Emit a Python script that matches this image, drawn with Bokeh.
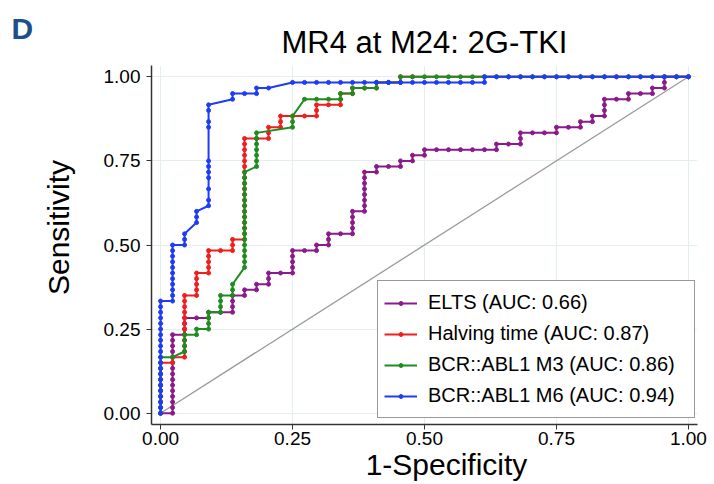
from bokeh.plotting import figure
from bokeh.models import Range1d, FixedTicker, Label, Legend, LegendItem, NumeralTickFormatter
from bokeh.embed import file_html
from bokeh.resources import INLINE
import numpy as np

# ROC points: (false positives, true positives)
N_NEG = 44
N_POS = 60

ELTS_PTS = [(0,0),(1,0),(1,1),(1,2),(1,3),(1,4),(1,5),(1,6),(1,7),(1,8),(1,9),(1,10),(1,11),(1,12),(1,13),(1,14),
            (2,14),(2,15),(2,16),(2,17),(3,17),(4,17),(4,18),(5,18),(6,18),(6,19),(6,20),(6,21),(7,21),(7,22),
            (8,22),(8,23),(9,23),(9,24),(9,25),(10,25),(11,25),(11,26),(11,27),(11,28),(11,29),(12,29),(13,29),
            (13,30),(14,30),(14,31),(14,32),(15,32),(16,32),(16,33),(16,34),(16,35),(16,36),(17,36),(17,37),
            (17,38),(17,39),(17,40),(17,41),(17,42),(17,43),(18,43),(18,44),(19,44),(20,44),(20,45),(21,45),
            (21,46),(22,46),(22,47),(23,47),(24,47),(25,47),(26,47),(27,47),(28,47),(28,48),(29,48),(30,48),
            (30,49),(30,50),(31,50),(32,50),(33,50),(33,51),(34,51),(35,51),(35,52),(36,52),(36,53),(37,53),
            (37,54),(37,55),(37,56),(38,56),(39,56),(39,57),(40,57),(41,57),(41,58),(42,58),(42,59),(42,60),
            (43,60),(44,60)]

HALVING_PTS = [(0,0),(0,1),(0,2),(0,3),(0,4),(0,5),(0,6),(0,7),(0,8),(0,9),(1,9),(1,10),(2,10),(2,11),(2,12),
               (2,13),(2,14),(2,15),(2,16),(2,17),(2,18),(2,19),(2,20),(2,21),(3,21),(3,22),(3,23),(3,24),(3,25),
               (4,25),(4,26),(4,27),(4,28),(4,29),(5,29),(6,29),(6,30),(6,31),(7,31),(7,32),(7,33),(7,34),(7,35),
               (7,36),(7,37),(7,38),(7,39),(7,40),(7,41),(7,42),(7,43),(7,44),(7,45),(7,46),(7,47),(7,48),(7,49),
               (8,49),(9,49),(9,50),(9,51),(10,51),(10,52),(10,53),(11,53),(12,53),(13,53),(13,54),(13,55),(14,55),
               (15,55),(15,56),(15,57),(16,57),(16,58),(17,58),(18,58),(18,59),(19,59),(20,59),(20,60),(21,60),
               (38,60),(44,60)]

M3_PTS = [(0,0),(0,1),(0,2),(0,3),(0,4),(0,5),(0,6),(0,7),(0,8),(0,9),(0,10),(1,10),(2,11),(2,12),(2,13),(2,14),
          (3,14),(3,15),(4,15),(4,16),(4,17),(4,18),(5,18),(5,19),(5,20),(5,21),(6,21),(6,22),(6,23),(7,26),(7,27),
          (7,28),(7,29),(7,30),(7,31),(7,32),(7,33),(7,34),(7,35),(7,36),(7,37),(7,38),(7,39),(7,40),(7,41),(7,42),
          (7,43),(8,44),(8,45),(8,46),(8,47),(8,48),(8,49),(8,50),(11,51),(11,52),(11,53),(12,56),(13,56),(14,56),
          (15,56),(15,57),(16,57),(16,58),(17,58),(18,58),(18,59),(19,59),(20,59),(20,60),(21,60),(22,60),(23,60),
          (24,60),(25,60),(26,60),(27,60),(28,60),(29,60),(30,60),(31,60),(32,60),(33,60),(34,60),(35,60),(36,60),
          (37,60),(39,60),(40,60),(41,60),(42,60),(43,60),(44,60)]

M6_PTS = [(0,0),(0,1),(0,2),(0,3),(0,4),(0,5),(0,6),(0,7),(0,8),(0,9),(0,10),(0,11),(0,12),(0,13),(0,14),(0,15),
          (0,16),(0,17),(0,18),(0,19),(0,20),(1,20),(1,21),(1,22),(1,23),(1,24),(1,25),(1,26),(1,27),(1,28),(1,29),
          (1,30),(2,30),(2,31),(2,32),(3,34),(3,35),(3,36),(4,37),(4,38),(4,40),(4,42),(4,43),(4,44),(4,45),(4,51),
          (4,52),(4,54),(4,55),(6,56),(6,57),(7,57),(8,57),(8,58),(9,58),(11,59),(12,59),(13,59),(14,59),(15,59),
          (16,59),(17,59),(18,59),(19,59),(20,59),(21,59),(22,59),(23,59),(24,59),(25,59),(26,59),(27,59),(27,60),
          (28,60),(29,60),(30,60),(31,60),(32,60),(33,60),(34,60),(35,60),(36,60),(37,60),(38,60),(39,60),(40,60),
          (41,60),(42,60),(43,60),(44,60)]

LABELS = ["ELTS (AUC: 0.66)", "Halving time (AUC: 0.87)",
          "BCR::ABL1 M3 (AUC: 0.86)", "BCR::ABL1 M6 (AUC: 0.94)"]
COLORS = ["#8b1a8b", "#f01e1e", "#1f8c1f", "#1f3cf5"]
TICKS = [0.0, 0.25, 0.5, 0.75, 1.0]

FONT = "Liberation Sans"

p = figure(width=714, height=484, output_backend="svg", toolbar_location=None,
           x_range=Range1d(-0.0172, 1.0172), y_range=Range1d(-0.0336, 1.0336),
           min_border_left=151, min_border_right=17, min_border_top=65, min_border_bottom=60,
           title="MR4 at M24: 2G-TKI")
p.outline_line_color = None
p.background_fill_color = "white"
p.border_fill_color = "white"

p.title.align = "center"
p.title.text_font = FONT
p.title.text_font_size = "31px"
p.title.text_font_style = "normal"
p.title.text_color = "black"
p.title.standoff = 12

for ax in (p.xaxis[0], p.yaxis[0]):
    ax.ticker = FixedTicker(ticks=TICKS)
    ax.formatter = NumeralTickFormatter(format="0.00")
    ax.minor_tick_line_color = None
    ax.major_tick_in = 0
    ax.major_tick_out = 5
    ax.axis_line_color = "#333333"
    ax.axis_line_width = 1.5
    ax.major_tick_line_color = "#333333"
    ax.major_label_text_font = FONT
    ax.major_label_text_font_size = "19px"
    ax.major_label_text_color = "black"

p.xaxis.major_label_standoff = 2
p.yaxis.major_label_standoff = 6
p.yaxis.major_label_orientation = "horizontal"

p.grid.grid_line_color = "#e4edf0"
p.grid.grid_line_width = 1
p.xgrid.ticker = FixedTicker(ticks=TICKS)
p.ygrid.ticker = FixedTicker(ticks=TICKS)

# reference diagonal
p.line([0, 1], [0, 1], line_color="#9a9a9a", line_width=1.3)

items = []
for pts, lab, col in zip([ELTS_PTS, HALVING_PTS, M3_PTS, M6_PTS], LABELS, COLORS):
    arr = np.array(pts, dtype=float)
    fpr = arr[:, 0] / N_NEG
    tpr = arr[:, 1] / N_POS
    r1 = p.line(fpr, tpr, line_color=col, line_width=2)
    r2 = p.scatter(fpr, tpr, marker="circle", size=4, fill_color=col, line_color=col)
    items.append(LegendItem(label=lab, renderers=[r1, r2]))

legend = Legend(items=items, location=(226, 6))
legend.label_text_font = FONT
legend.label_text_font_size = "20px"
legend.label_text_color = "black"
legend.glyph_width = 33
legend.glyph_height = 10
legend.label_height = 31
legend.label_standoff = 11
legend.label_width = 260
legend.padding = 6
legend.spacing = 0
legend.margin = 0
legend.border_line_color = "#333333"
legend.border_line_width = 1
legend.background_fill_color = "white"
legend.background_fill_alpha = 1
p.add_layout(legend, "center")

# axis titles and panel letter as labels in the side panels
x_title = Label(x=295, y=16, x_units="screen", y_units="screen", text="1-Specificity",
                text_font=FONT, text_font_size="30px", text_color="black",
                text_baseline="alphabetic", text_align="center")
p.add_layout(x_title, "below")

d_label = Label(x=-67, y=396, x_units="screen", y_units="screen", text="D",
                text_font=FONT, text_font_style="bold", text_font_size="30px",
                text_color="#1d4f8c", text_baseline="alphabetic", text_align="left")
p.add_layout(d_label, "left")

y_title = Label(x=13, y=197, x_units="screen", y_units="screen", text="Sensitivity",
                angle=np.pi / 2, text_font=FONT, text_font_size="30px", text_color="black",
                text_baseline="alphabetic", text_align="center")
p.add_layout(y_title, "left")

open("out.html", "w").write(file_html(p, INLINE))
